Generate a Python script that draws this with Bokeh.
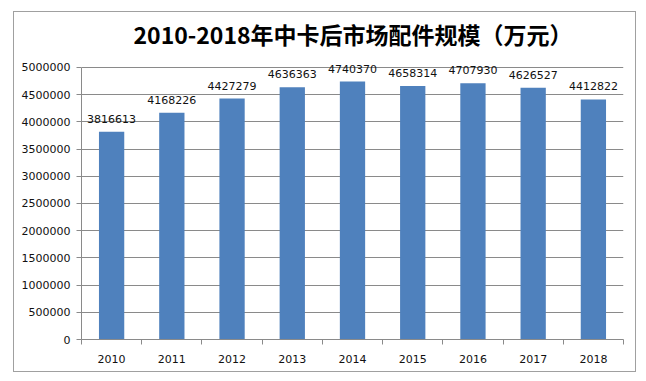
from bokeh.plotting import figure
from bokeh.models import ColumnDataSource, FixedTicker, BasicTickFormatter, LabelSet, Range1d
from bokeh.core.properties import value
from bokeh.embed import file_html
from bokeh.resources import INLINE

years = [2010, 2011, 2012, 2013, 2014, 2015, 2016, 2017, 2018]
values = [3816613, 4168226, 4427279, 4636363, 4740370, 4658314, 4707930, 4626527, 4412822]
title_text = "2010-2018年中卡后市场配件规模（万元）"
y_max = 5000000
y_step = 500000

src = ColumnDataSource(data=dict(x=years, top=values, label=[str(v) for v in values]))

p = figure(width=623, height=361, output_backend="svg", toolbar_location=None,
           x_range=Range1d(years[0] - 0.5, years[-1] + 0.5), y_range=Range1d(0, 5256000),
           min_border_left=67, min_border_right=14, min_border_top=35, min_border_bottom=34)
p.margin = (11, 0, 0, 13)
p.styles = {"border": "1px solid #A0A0A0"}

p.title.text = title_text
p.title.text_font = "Noto Sans CJK SC"
p.title.text_font_size = "23px"
p.title.text_font_style = "bold"
p.title.text_color = "#000000"
p.title.align = "left"
p.title.offset = 52
p.title.standoff = 5

p.vbar(x="x", top="top", width=0.42, source=src, fill_color="#4F81BD", line_color=None)

labels = LabelSet(x="x", y="top", text="label", source=src, text_align="center",
                  text_baseline="bottom", y_offset=9, text_font=value("DejaVu Sans"),
                  text_font_size=value("11px"), text_color="#111111")
p.add_layout(labels)

p.outline_line_color = None
p.background_fill_color = "white"
p.border_fill_color = "white"

p.xgrid.grid_line_color = None
p.ygrid.grid_line_color = "#8A8A8A"
p.ygrid.grid_line_width = 1

p.yaxis.ticker = FixedTicker(ticks=list(range(0, y_max + 1, y_step)))
p.yaxis.bounds = (0, y_max)
p.yaxis.formatter = BasicTickFormatter(use_scientific=False)
p.yaxis.axis_line_color = "#8A8A8A"
p.yaxis.major_tick_line_color = "#8A8A8A"
p.yaxis.major_tick_out = 5
p.yaxis.major_tick_in = 0
p.yaxis.minor_tick_line_color = None
p.yaxis.major_label_standoff = 6
p.yaxis.major_label_text_font = "DejaVu Sans"
p.yaxis.major_label_text_font_size = "11px"
p.yaxis.major_label_text_color = "#111111"

p.xaxis.ticker = FixedTicker(ticks=years, minor_ticks=[y - 0.5 for y in years] + [years[-1] + 0.5])
p.xaxis.axis_line_color = "#8A8A8A"
p.xaxis.major_tick_line_color = None
p.xaxis.minor_tick_line_color = "#8A8A8A"
p.xaxis.minor_tick_out = 5
p.xaxis.minor_tick_in = 0
p.xaxis.major_tick_out = 0
p.xaxis.major_tick_in = 0
p.xaxis.major_label_standoff = 10
p.xaxis.major_label_text_font = "DejaVu Sans"
p.xaxis.major_label_text_font_size = "11px"
p.xaxis.major_label_text_color = "#111111"

open("out.html", "w").write(file_html(p, INLINE))
